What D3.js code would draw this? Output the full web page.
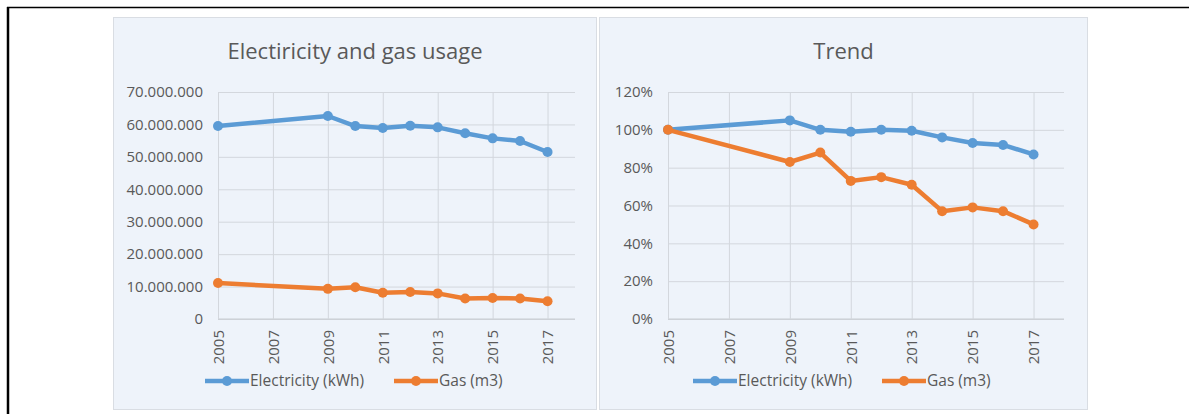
<!DOCTYPE html>
<html>
<head>
<meta charset="utf-8">
<script src="https://cdn.jsdelivr.net/npm/d3@7"></script>
<style>
  body { margin: 0; background: #fff; }
  svg { display: block; font-family: "Open Sans", sans-serif; }
</style>
</head>
<body>
<svg id="chart" width="1189" height="414"></svg>
<script>
// data
const years = [2005, 2009, 2010, 2011, 2012, 2013, 2014, 2015, 2016, 2017];
const electricity = [59.5e6, 62.6e6, 59.5e6, 58.9e6, 59.6e6, 59.1e6, 57.3e6, 55.7e6, 54.9e6, 51.5e6];
const gas = [11.1e6, 9.3e6, 9.8e6, 8.1e6, 8.3e6, 7.9e6, 6.3e6, 6.5e6, 6.3e6, 5.5e6];
const electricityTrend = [1.00, 1.05, 1.00, 0.99, 1.00, 0.995, 0.96, 0.93, 0.92, 0.87];
const gasTrend = [1.00, 0.83, 0.88, 0.73, 0.75, 0.71, 0.57, 0.59, 0.57, 0.50];
const yearTicks = [2005, 2007, 2009, 2011, 2013, 2015, 2017];
const usageTicks = [0, 10e6, 20e6, 30e6, 40e6, 50e6, 60e6, 70e6];
const trendTicks = [0, 0.2, 0.4, 0.6, 0.8, 1.0, 1.2];
const seriesNames = ["Electricity (kWh)", "Gas (m3)"];
const colors = ["#5b9bd5", "#ed7d31"];

const svg = d3.select("#chart");

// table cell border around the picture
svg.append("line").attr("x1", 7).attr("x2", 1189).attr("y1", 7.5).attr("y2", 7.5)
  .attr("stroke", "#000").attr("stroke-width", 1.5);
svg.append("line").attr("x1", 8).attr("x2", 8).attr("y1", 7).attr("y2", 414)
  .attr("stroke", "#000").attr("stroke-width", 2.5);

const dotLocale = d3.formatLocale({ decimal: ",", thousands: ".", grouping: [3], currency: ["", ""] });

function panel(opts) {
  const g = svg.append("g");

  g.append("rect")
    .attr("x", opts.x0 + 0.5).attr("y", 17.5)
    .attr("width", opts.x1 - opts.x0 - 1).attr("height", 392)
    .attr("fill", "#eef3fa").attr("stroke", "#d9dde3");

  g.append("text")
    .attr("x", (opts.x0 + opts.x1) / 2).attr("y", 59)
    .attr("text-anchor", "middle")
    .attr("font-size", 22).attr("fill", "#595959")
    .text(opts.title);

  const x = d3.scaleLinear().domain([2005, 2018]).range([opts.left, opts.right]);
  const y = d3.scaleLinear().domain(opts.yDomain).range([319, 92]);

  // horizontal grid + y labels
  const yAxis = g.append("g")
    .attr("transform", `translate(${opts.left},0)`)
    .call(d3.axisLeft(y).tickValues(opts.yTicks).tickFormat(opts.fmt)
      .tickSize(-(opts.right - opts.left)).tickPadding(opts.pad));
  yAxis.select(".domain").remove();
  yAxis.selectAll(".tick line").attr("stroke", "#d3d7dd");
  yAxis.selectAll(".tick text").attr("font-size", 15).attr("fill", "#595959")
    .attr("font-family", "Open Sans");

  // vertical grid + rotated year labels
  const xAxis = g.append("g")
    .attr("transform", "translate(0,319)")
    .call(d3.axisBottom(x).tickValues(opts.xTicks).tickFormat(d3.format("d"))
      .tickSize(-227).tickPadding(0));
  xAxis.select(".domain").attr("stroke", "#c8ccd2").attr("d", `M${opts.left},0H${opts.right}`);
  xAxis.selectAll(".tick line").attr("stroke", "#d3d7dd");
  xAxis.selectAll(".tick text")
    .attr("transform", "rotate(-90)")
    .attr("x", -11).attr("y", 0).attr("dy", "0.35em")
    .attr("text-anchor", "end")
    .attr("font-size", 15).attr("fill", "#595959")
    .attr("font-family", "Open Sans");

  const line = d3.line().x((d, i) => x(years[i])).y(d => y(d));

  opts.series.forEach((vals, k) => {
    g.append("path").datum(vals)
      .attr("d", line)
      .attr("fill", "none").attr("stroke", colors[k])
      .attr("stroke-width", 4.5).attr("stroke-linejoin", "round").attr("stroke-linecap", "round");
    g.selectAll(null).data(vals).enter().append("circle")
      .attr("cx", (d, i) => x(years[i])).attr("cy", d => y(d))
      .attr("r", 5).attr("fill", colors[k]);
  });

  // legend
  const lg = g.append("g").attr("transform", `translate(${opts.legendX},381)`);
  const offsets = [0, 189];
  seriesNames.forEach((name, k) => {
    const item = lg.append("g").attr("transform", `translate(${offsets[k]},0)`);
    item.append("line").attr("x1", 0).attr("x2", 44)
      .attr("stroke", colors[k]).attr("stroke-width", 4.5);
    item.append("circle").attr("cx", 22).attr("r", 5).attr("fill", colors[k]);
    item.append("text").attr("x", 45).attr("dy", "0.35em")
      .attr("font-size", 15.5).attr("fill", "#595959").text(name);
  });
}

panel({
  x0: 113, x1: 597, left: 218, right: 575, pad: 15,
  title: "Electiricity and gas usage",
  yDomain: [0, 70e6], yTicks: usageTicks, xTicks: yearTicks,
  fmt: dotLocale.format(",d"),
  series: [electricity, gas], legendX: 205
});

panel({
  x0: 599, x1: 1088, left: 668, right: 1064, pad: 15,
  title: "Trend",
  yDomain: [0, 1.2], yTicks: trendTicks, xTicks: yearTicks,
  fmt: d3.format(".0%"),
  series: [electricityTrend, gasTrend], legendX: 693
});
</script>
</body>
</html>
